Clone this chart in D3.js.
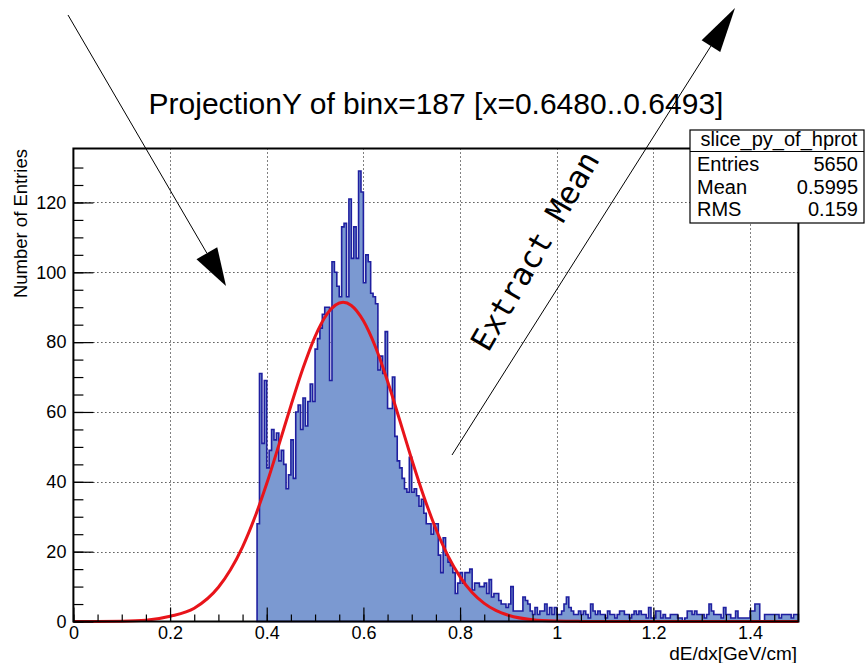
<!DOCTYPE html>
<html>
<head>
<meta charset="utf-8">
<script src="https://cdn.jsdelivr.net/npm/d3@7"></script>
<style>
body{margin:0;background:#fff}
</style>
</head>
<body>
<div id="chart"></div>
<script>
// bins of the projection, 0.005 wide, first filled bin starts at 0.38
var binLow = 0.38
var binWidth = 0.005
var counts = [
 28,71,51,69,44,49,55,52,54,46,49,45,38,42,52,41,60,62,55,64,56,63,68,63,78,81,84,88,90,90,
 69,103,100,96,93,113,114,93,121,104,113,104,129,
 123,97,105,103,94,93,91,
 72,76,71,83,61,61,70,53,46,44,41,38,37,47,37,38,36,33,
 35,31,28,28,25,28,28,19,14,24,19,17,16,14,8,11,14,11,14,14,15,9,11,11,10,10,11,8,12,7,8,8,
 6,5,5,4,5,10,3,3,3,3,7,6,5,3,2,4,2,3,3,5,2,4,2,4,2,2,3,5,7,4,3,2,2,3,2,3,2,1,5,3,2,3,2,2,1,3,2,
 2,1,2,3,3,2,2,1,2,3,2,3,2,2,1,4,1,1,3,3,1,2,1,1,2,2,2,1,1,0,1,3,3,2,3,2,2,2,1,2,
 5,3,2,2,2,1,4,2,2,1,1,3,1,1,1,1,1,3,3,5,5,0,0,2,2,2,2,2,2,1,2,2,2,2,1,2,2
]

// fitted curve
var fitX = [0,0.05,0.1,0.15,0.2,0.25,0.3,0.325,0.35,0.375,0.4,0.425,0.45,0.475,0.5,0.525,0.558,0.575,0.6,0.625,0.65,0.675,0.7,0.725,0.75,0.775,0.8,0.825,0.85,0.875,0.9,0.95,1.0,1.05,1.1,1.5]
var fitY = [0,0.02,0.08,0.34,1.5,3.8,9.8,14.8,21.4,29.7,39.5,50.5,61.8,72.5,81.6,88.1,91.4,90.5,86.1,78.6,68.8,57.7,46.4,35.8,26.5,18.8,12.8,8.3,5.2,3.1,1.8,0.5,0.13,0.03,0,0]

var xMajor = [0,0.2,0.4,0.6,0.8,1,1.2,1.4]
var xLabels = ["0","0.2","0.4","0.6","0.8","1","1.2","1.4"]
var yMajor = [0,20,40,60,80,100,120]

var statNames = ["Entries","Mean","RMS"]
var statValues = ["5650","0.5995","0.159"]

var width = 866, height = 663
var svg = d3.select("#chart").append("svg").attr("width",width).attr("height",height)
var font = "'Liberation Sans', Arial, Helvetica, sans-serif"

var x = d3.scaleLinear().domain([0,1.5]).range([73.4,798.4])
var y = d3.scaleLinear().domain([0,135.45]).range([621.5,148.5])

// grid
var grid = svg.append("g").attr("stroke","#000").attr("stroke-width",1).attr("stroke-dasharray","1,3")
grid.selectAll("line.gx").data(xMajor.slice(1)).enter().append("line")
	.attr("x1",function(d){return Math.round(x(d))+0.5}).attr("x2",function(d){return Math.round(x(d))+0.5})
	.attr("y1",y.range()[0]).attr("y2",y.range()[1])
grid.selectAll("line.gy").data(yMajor.slice(1)).enter().append("line")
	.attr("y1",function(d){return Math.round(y(d))+0.5}).attr("y2",function(d){return Math.round(y(d))+0.5})
	.attr("x1",x.range()[0]).attr("x2",x.range()[1])

// histogram
var pts = counts.map(function(c,i){return [binLow+i*binWidth,c]})
pts.push([binLow+counts.length*binWidth,counts[counts.length-1]])
var area = d3.area().curve(d3.curveStepAfter)
	.x(function(d){return x(d[0])}).y0(y(0)).y1(function(d){return y(d[1])})
svg.append("path").datum(pts).attr("d",area)
	.attr("fill","#7b99d1").attr("stroke","#1f1fa0").attr("stroke-width",1.6)

// fit
var fitLine = d3.line().curve(d3.curveMonotoneX)
	.x(function(d){return x(d[0])}).y(function(d){return y(d[1])})
svg.append("path").datum(fitX.map(function(v,i){return [v,fitY[i]]})).attr("d",fitLine)
	.attr("fill","none").attr("stroke","#e8141a").attr("stroke-width",3)

// axes, ticks inside the frame
svg.append("g").attr("transform","translate(0,"+y(0)+")")
	.call(d3.axisBottom(x).tickValues(xMajor).tickSize(-14).tickPadding(5).tickFormat(function(d,i){return xLabels[i]}))
svg.append("g").attr("transform","translate(0,"+y(0)+")")
	.call(d3.axisBottom(x).tickValues(d3.range(0,1.5,0.05)).tickSize(-7).tickFormat(""))
svg.append("g").attr("transform","translate("+x(0)+",0)")
	.call(d3.axisLeft(y).tickValues(yMajor).tickSize(-20).tickPadding(7))
svg.append("g").attr("transform","translate("+x(0)+",0)")
	.call(d3.axisLeft(y).tickValues(d3.range(0,135,5)).tickSize(-10).tickFormat(""))
svg.selectAll(".domain").remove()
svg.selectAll(".tick line").attr("stroke","#000").attr("stroke-width",1.2)
svg.selectAll(".tick text").attr("font-family",font).attr("font-size",18).attr("fill","#000")

// frame
svg.append("rect").attr("x",x.range()[0]).attr("y",y.range()[1])
	.attr("width",x.range()[1]-x.range()[0]).attr("height",y.range()[0]-y.range()[1])
	.attr("fill","none").attr("stroke","#000").attr("stroke-width",2)

// titles
svg.append("text").attr("x",436).attr("y",114).attr("text-anchor","middle")
	.attr("font-family",font).attr("font-size",30).text("ProjectionY of binx=187 [x=0.6480..0.6493]")
svg.append("text").attr("x",797).attr("y",660).attr("text-anchor","end")
	.attr("font-family",font).attr("font-size",19).text("dE/dx[GeV/cm]")
svg.append("text").attr("transform","translate(27,149) rotate(-90)").attr("text-anchor","end")
	.attr("font-family",font).attr("font-size",18.5).text("Number of Entries")

// stats box
var box = svg.append("g")
box.append("rect").attr("x",690).attr("y",130).attr("width",174).attr("height",93)
	.attr("fill","#fff").attr("stroke","#000").attr("stroke-width",1.2)
box.append("line").attr("x1",690).attr("x2",864).attr("y1",151.5).attr("y2",151.5).attr("stroke","#000").attr("stroke-width",1.2)
box.append("text").attr("x",779).attr("y",146).attr("text-anchor","middle")
	.attr("font-family",font).attr("font-size",20).text("slice_py_of_hprot")
var rowY = [171,194,216]
statNames.forEach(function(n,i){
	box.append("text").attr("x",697).attr("y",rowY[i]).attr("font-family",font).attr("font-size",20).text(n)
	box.append("text").attr("x",858).attr("y",rowY[i]).attr("text-anchor","end").attr("font-family",font).attr("font-size",20).text(statValues[i])
})

// annotation arrows
function arrow(x1,y1,x2,y2,len,half){
	var dx=x2-x1, dy=y2-y1, l=Math.sqrt(dx*dx+dy*dy)
	var ux=dx/l, uy=dy/l
	var bx=x2-ux*len, by=y2-uy*len
	svg.append("line").attr("x1",x1).attr("y1",y1).attr("x2",bx).attr("y2",by)
		.attr("stroke","#000").attr("stroke-width",1)
	svg.append("polygon")
		.attr("points",[[x2,y2],[bx-uy*half,by+ux*half],[bx+uy*half,by-ux*half]].map(function(p){return p.join(",")}).join(" "))
		.attr("fill","#000")
}
arrow(68,15,226,286,38,12)
arrow(452,455,735,8,45,11)

svg.append("text").attr("transform","translate(537,252) rotate(-60)").attr("text-anchor","middle")
	.attr("dominant-baseline","middle")
	.attr("font-family","'DejaVu Sans Mono', monospace").attr("font-size",31).text("Extract Mean")
</script>
</body>
</html>
